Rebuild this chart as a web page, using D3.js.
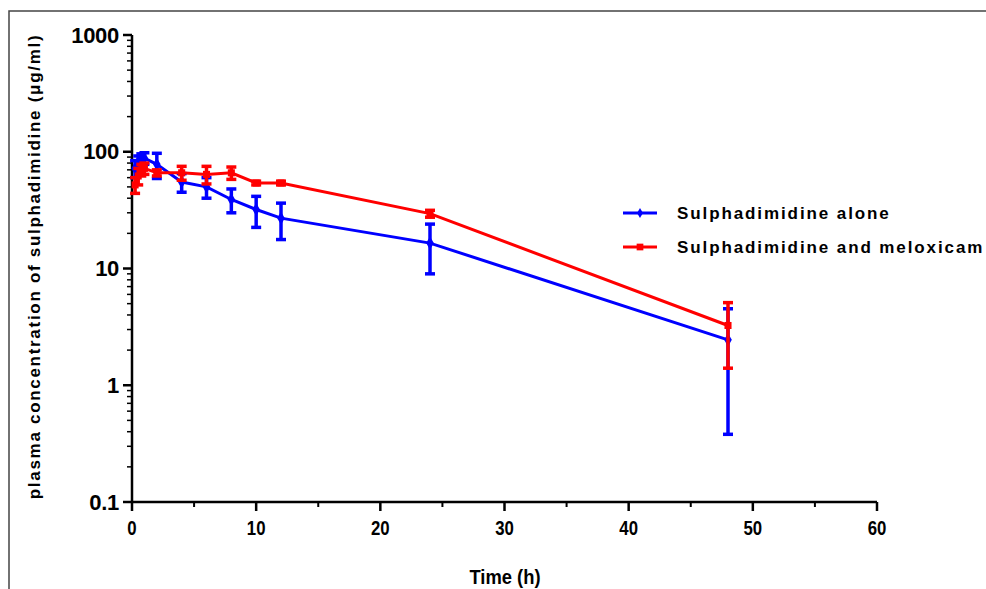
<!DOCTYPE html>
<html>
<head>
<meta charset="utf-8">
<script src="https://cdn.jsdelivr.net/npm/d3@7"></script>
<style>
  body { margin: 0; background: #fff; }
  svg { display: block; font-family: "Liberation Sans", Arial, sans-serif; }
</style>
</head>
<body>
<svg id="chart" width="986" height="589"></svg>
<script>
// sampling times (h)
const times = [0.25, 0.5, 0.75, 1, 2, 4, 6, 8, 10, 12, 24, 48];

// Sulphadimidine alone: mean and SD (ug/ml)
const aloneMean = [72, 82, 86, 88, 78, 55, 50, 39, 32, 27, 16.5, 2.45];
const aloneSd   = [12, 10, 10, 10, 19, 10, 10, 9, 9.5, 9.3, 7.5, 2.07];

// Sulphadimidine and meloxicam
const meloMean = [52, 62, 70, 72, 66, 66, 64, 66, 54, 54, 29.5, 3.25];
const meloSd   = [8, 10, 8, 8, 4, 9, 11, 8, 2, 2, 2, 1.85];

const xTicks = [0, 10, 20, 30, 40, 50, 60];
const yTicks = [0.1, 1, 10, 100, 1000];

const svg = d3.select("#chart");

// outer frame
svg.append("path")
  .attr("d", "M9,589 L9,11 L986,11")
  .attr("fill", "none")
  .attr("stroke", "#444")
  .attr("stroke-width", 1.5);

const x = d3.scaleLinear().domain([0, 60]).range([132, 877]);
const y = d3.scaleLog().domain([0.1, 1000]).range([502, 35]);

const g = svg.append("g");

// x axis
const xAxis = g.append("g").attr("transform", `translate(0,${y(0.1)})`);
xAxis.append("line")
  .attr("x1", x(0)).attr("x2", x(60))
  .attr("stroke", "#000").attr("stroke-width", 2.5);
xAxis.selectAll(".minor").data(d3.range(5, 60, 10)).join("line")
  .attr("x1", d => x(d)).attr("x2", d => x(d))
  .attr("y1", 0).attr("y2", 5)
  .attr("stroke", "#000").attr("stroke-width", 2);
xAxis.selectAll(".major").data(xTicks).join("line")
  .attr("x1", d => x(d)).attr("x2", d => x(d))
  .attr("y1", 0).attr("y2", 9)
  .attr("stroke", "#000").attr("stroke-width", 2.5);
xAxis.selectAll("text").data(xTicks).join("text")
  .attr("x", d => x(d)).attr("y", 33)
  .attr("text-anchor", "middle")
  .attr("font-size", 20).attr("font-weight", "bold")
  .attr("transform-origin", d => `${x(d)} 26`)
  .attr("transform", "scale(0.84,1)")
  .text(d => d);

// y axis
const yAxis = g.append("g").attr("transform", `translate(${x(0)},0)`);
yAxis.append("line")
  .attr("y1", y(1000)).attr("y2", y(0.1))
  .attr("stroke", "#000").attr("stroke-width", 2.5);
const minorY = [];
[0.1, 1, 10, 100].forEach(b => { for (let k = 2; k <= 9; k++) minorY.push(b * k); });
yAxis.selectAll(".minor").data(minorY).join("line")
  .attr("x1", -5).attr("x2", 0)
  .attr("y1", d => y(d)).attr("y2", d => y(d))
  .attr("stroke", "#000").attr("stroke-width", 1.5);
yAxis.selectAll(".major").data(yTicks).join("line")
  .attr("x1", -9).attr("x2", 0)
  .attr("y1", d => y(d)).attr("y2", d => y(d))
  .attr("stroke", "#000").attr("stroke-width", 2.5);
yAxis.selectAll("text").data(yTicks).join("text")
  .attr("x", -13).attr("y", d => y(d) + 7.5)
  .attr("text-anchor", "end")
  .attr("font-size", 22).attr("font-weight", "bold")
  .attr("letter-spacing", -0.3)
  .text(d => d);

// axis titles
svg.append("text")
  .attr("x", 505).attr("y", 584)
  .attr("text-anchor", "middle")
  .attr("font-size", 20).attr("font-weight", "bold")
  .attr("transform-origin", "505 577")
  .attr("transform", "scale(0.92,1)")
  .text("Time (h)");
svg.append("text")
  .attr("transform", `translate(40,${y(10) - 2}) rotate(-90)`)
  .attr("text-anchor", "middle")
  .attr("font-size", 17).attr("font-weight", "bold")
  .attr("letter-spacing", 1.7)
  .text("plasma concentration of sulphadimidine (\u03bcg/ml)");

// series
const series = [
  { name: "Sulphadimidine alone", color: "#0000ff", mean: aloneMean, sd: aloneSd, shape: d3.symbolDiamond },
  { name: "Sulphadimidine and meloxicam", color: "#ff0000", mean: meloMean, sd: meloSd, shape: d3.symbolSquare }
];

const line = d3.line().x(d => x(d.t)).y(d => y(d.m));

series.forEach(s => {
  const pts = times.map((t, i) => ({ t, m: s.mean[i], sd: s.sd[i] }));
  const sg = g.append("g");
  sg.append("path")
    .attr("d", line(pts))
    .attr("fill", "none").attr("stroke", s.color).attr("stroke-width", 3);
  const eb = sg.selectAll(".eb").data(pts).join("g");
  eb.append("line")
    .attr("x1", d => x(d.t)).attr("x2", d => x(d.t))
    .attr("y1", d => y(d.m + d.sd)).attr("y2", d => y(Math.max(d.m - d.sd, 0.1)))
    .attr("stroke", s.color).attr("stroke-width", 3.5);
  eb.append("line")
    .attr("x1", d => x(d.t) - 5).attr("x2", d => x(d.t) + 5)
    .attr("y1", d => y(d.m + d.sd)).attr("y2", d => y(d.m + d.sd))
    .attr("stroke", s.color).attr("stroke-width", 3.5);
  eb.append("line")
    .attr("x1", d => x(d.t) - 5).attr("x2", d => x(d.t) + 5)
    .attr("y1", d => y(Math.max(d.m - d.sd, 0.1))).attr("y2", d => y(Math.max(d.m - d.sd, 0.1)))
    .attr("stroke", s.color).attr("stroke-width", 3.5);
  sg.selectAll(".pt").data(pts).join("path")
    .attr("transform", d => `translate(${x(d.t)},${y(d.m)})`)
    .attr("d", d3.symbol().type(s.shape).size(50))
    .attr("fill", s.color);
});

// legend
const leg = svg.append("g");
series.forEach((s, i) => {
  const ly = 213 + i * 34;
  leg.append("line")
    .attr("x1", 623).attr("x2", 657).attr("y1", ly).attr("y2", ly)
    .attr("stroke", s.color).attr("stroke-width", 3);
  leg.append("path")
    .attr("transform", `translate(640,${ly})`)
    .attr("d", d3.symbol().type(s.shape).size(i === 0 ? 30 : 45))
    .attr("fill", s.color);
  leg.append("text")
    .attr("x", 677).attr("y", ly + 6)
    .attr("font-size", 17).attr("font-weight", "bold")
    .attr("letter-spacing", 1.9)
    .text(s.name);
});
</script>
</body>
</html>
